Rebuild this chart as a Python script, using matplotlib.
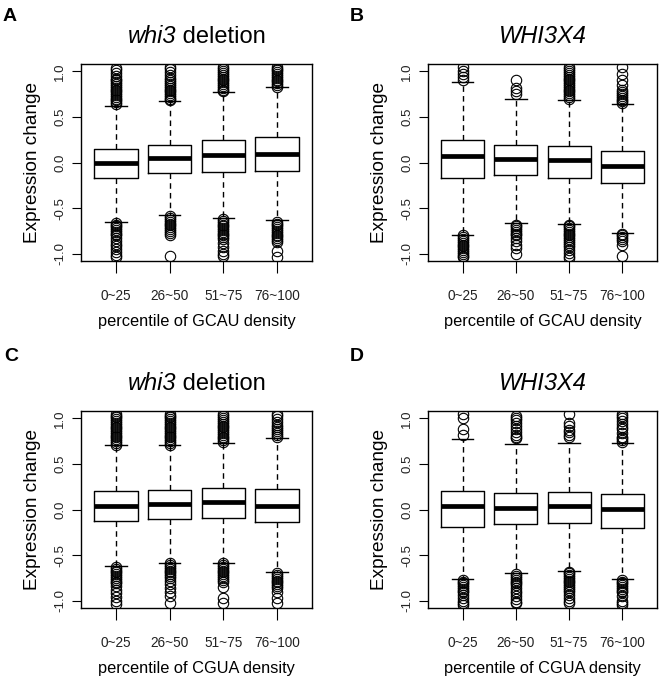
import numpy as np
import matplotlib
matplotlib.use("Agg")
import matplotlib.pyplot as plt

plt.rcParams['font.family'] = ['Liberation Sans', 'DejaVu Sans']

groups = ["0~25", "26~50", "51~75", "76~100"]
yticks = [-1.0, -0.5, 0.0, 0.5, 1.0]
ytick_labels = ["-1.0", "-0.5", "0.0", "0.5", "1.0"]

# box stats per panel: q1, median, q3, lower whisker, upper whisker
a_q1 = [-0.172, -0.113, -0.100, -0.088]
a_med = [0.000, 0.044, 0.080, 0.095]
a_q3 = [0.153, 0.197, 0.248, 0.281]
a_lo = [-0.650, -0.580, -0.610, -0.635]
a_hi = [0.624, 0.672, 0.770, 0.825]
a_out = [
    [0.64, 0.66, 0.68, 0.70, 0.72, 0.74, 0.76, 0.78, 0.80, 0.82, 0.84, 0.86, 0.88, 0.90, 0.92, 0.95, 0.98, 1.01, 1.04,
     -0.66, -0.68, -0.70, -0.72, -0.74, -0.76, -0.78, -0.80, -0.83, -0.86, -0.89, -0.92, -0.95, -0.98, -1.01, -1.04],
    [0.68, 0.70, 0.72, 0.74, 0.76, 0.78, 0.80, 0.82, 0.84, 0.86, 0.88, 0.90, 0.93, 0.96, 0.99, 1.02, 1.05,
     -0.59, -0.61, -0.63, -0.65, -0.67, -0.69, -0.71, -0.73, -0.75, -0.77, -0.79, -1.03],
    [0.78, 0.80, 0.82, 0.84, 0.86, 0.88, 0.90, 0.92, 0.94, 0.96, 0.98, 1.00, 1.02, 1.05,
     -0.62, -0.64, -0.66, -0.68, -0.70, -0.72, -0.74, -0.76, -0.78, -0.80, -0.82, -0.84, -0.88, -0.93, -0.97, -1.00, -1.03],
    [0.83, 0.85, 0.87, 0.89, 0.91, 0.93, 0.95, 0.97, 0.99, 1.01, 1.03, 1.05,
     -0.65, -0.67, -0.69, -0.71, -0.73, -0.75, -0.77, -0.79, -0.81, -0.83, -0.85, -0.87, -0.97, -1.04],
]

b_q1 = [-0.172, -0.142, -0.168, -0.230]
b_med = [0.073, 0.036, 0.022, -0.040]
b_q3 = [0.248, 0.193, 0.179, 0.124]
b_lo = [-0.790, -0.668, -0.670, -0.770]
b_hi = [0.880, 0.700, 0.690, 0.642]
b_out = [
    [0.90, 0.94, 0.97, 1.00, 1.05,
     -0.80, -0.82, -0.84, -0.86, -0.88, -0.90, -0.92, -0.94, -0.96, -0.98, -1.00, -1.02, -1.04],
    [0.75, 0.78, 0.82, 0.90,
     -0.68, -0.70, -0.72, -0.74, -0.76, -0.78, -0.80, -0.83, -0.86, -0.90, -0.94, -1.00],
    [0.70, 0.72, 0.74, 0.76, 0.78, 0.80, 0.82, 0.84, 0.86, 0.88, 0.90, 0.92, 0.94, 0.96, 0.98, 1.00, 1.02, 1.05,
     -0.68, -0.70, -0.72, -0.74, -0.76, -0.78, -0.80, -0.82, -0.84, -0.86, -0.88, -0.90, -0.93, -0.96, -0.99, -1.02, -1.05],
    [0.65, 0.67, 0.69, 0.71, 0.73, 0.75, 0.77, 0.80, 0.85, 0.90, 0.97, 1.05,
     -0.78, -0.80, -0.82, -0.84, -0.86, -0.90, -1.03],
]

c_q1 = [-0.124, -0.099, -0.091, -0.142]
c_med = [0.040, 0.058, 0.077, 0.036]
c_q3 = [0.204, 0.215, 0.241, 0.226]
c_lo = [-0.620, -0.584, -0.584, -0.690]
c_hi = [0.704, 0.704, 0.734, 0.785]
c_out = [
    [0.71, 0.73, 0.75, 0.77, 0.79, 0.81, 0.83, 0.85, 0.87, 0.89, 0.91, 0.93, 0.95, 0.97, 0.99, 1.01, 1.03, 1.05,
     -0.63, -0.65, -0.67, -0.69, -0.71, -0.73, -0.75, -0.77, -0.79, -0.81, -0.84, -0.88, -0.92, -0.96, -1.00, -1.04],
    [0.71, 0.73, 0.75, 0.77, 0.79, 0.81, 0.83, 0.85, 0.87, 0.89, 0.91, 0.93, 0.95, 0.97, 0.99, 1.01, 1.03, 1.05,
     -0.59, -0.61, -0.63, -0.65, -0.67, -0.69, -0.71, -0.73, -0.75, -0.78, -0.82, -0.86, -0.90, -0.95, -1.03],
    [0.74, 0.76, 0.78, 0.80, 0.82, 0.84, 0.86, 0.88, 0.90, 0.92, 0.94, 0.96, 0.98, 1.00, 1.02, 1.05,
     -0.59, -0.61, -0.63, -0.65, -0.67, -0.69, -0.71, -0.73, -0.75, -0.77, -0.80, -0.85, -0.97, -1.03],
    [0.80, 0.82, 0.84, 0.86, 0.88, 0.90, 0.93, 0.96, 0.99, 1.02, 1.05,
     -0.70, -0.72, -0.74, -0.76, -0.78, -0.80, -0.82, -0.84, -0.86, -0.90, -0.97, -1.03],
]

d_q1 = [-0.190, -0.164, -0.146, -0.200]
d_med = [0.033, 0.015, 0.033, 0.004]
d_q3 = [0.204, 0.186, 0.197, 0.175]
d_lo = [-0.763, -0.700, -0.670, -0.763]
d_hi = [0.770, 0.715, 0.726, 0.734]
d_out = [
    [0.82, 0.88, 1.00, 1.05,
     -0.77, -0.79, -0.81, -0.83, -0.85, -0.87, -0.89, -0.91, -0.94, -0.97, -1.00, -1.03, -1.05],
    [0.78, 0.80, 0.82, 0.85, 0.88, 0.92, 0.95, 0.98, 1.00, 1.03,
     -0.71, -0.73, -0.75, -0.77, -0.79, -0.81, -0.83, -0.86, -0.89, -0.92, -0.95, -0.98, -1.01, -1.03],
    [0.79, 0.82, 0.85, 0.87, 0.92, 0.95, 1.05,
     -0.68, -0.70, -0.72, -0.74, -0.76, -0.78, -0.80, -0.82, -0.84, -0.86, -0.88, -0.91, -0.94, -0.97, -1.00, -1.02],
    [0.74, 0.76, 0.78, 0.80, 0.84, 0.88, 0.91, 0.94, 0.97, 1.00, 1.03, 1.05,
     -0.77, -0.79, -0.81, -0.83, -0.85, -0.87, -0.89, -0.91, -0.95, -1.00, -1.03, -1.05],
]

# title parts: (italic part, upright part)
panels = [
    ("A", ("whi3", " deletion"), "percentile of GCAU density", a_q1, a_med, a_q3, a_lo, a_hi, a_out),
    ("B", ("WHI3X4", ""), "percentile of GCAU density", b_q1, b_med, b_q3, b_lo, b_hi, b_out),
    ("C", ("whi3", " deletion"), "percentile of CGUA density", c_q1, c_med, c_q3, c_lo, c_hi, c_out),
    ("D", ("WHI3X4", ""), "percentile of CGUA density", d_q1, d_med, d_q3, d_lo, d_hi, d_out),
]

W, H = 664, 681
# axes boxes in pixels: left, top, right, bottom
boxes = [(81, 64, 312, 261), (428, 64, 657, 261), (81, 411, 312, 608), (428, 411, 657, 608)]
letter_pos = [(3, 8), (350, 8), (4, 348), (350, 348)]

fig = plt.figure(figsize=(W / 100, H / 100), dpi=100)
titles = []

for (letter, title, xlab, q1, med, q3, lo, hi, out), (l, t, r, b), (lx, ly) in zip(panels, boxes, letter_pos):
    ax = fig.add_axes([l / W, 1 - b / H, (r - l) / W, (b - t) / H])
    stats = []
    for i in range(len(groups)):
        stats.append(dict(q1=q1[i], med=med[i], q3=q3[i], whislo=lo[i], whishi=hi[i], fliers=out[i]))
    ax.bxp(stats, positions=[1, 2, 3, 4], widths=0.81, capwidths=0.4, showfliers=True,
           boxprops=dict(color='black', lw=1.0),
           medianprops=dict(color='black', lw=3.4, solid_capstyle='butt'),
           whiskerprops=dict(color='black', lw=1.0, linestyle=(0, (4, 3))),
           capprops=dict(color='black', lw=1.0),
           flierprops=dict(marker='o', markersize=7.5, markerfacecolor='none',
                           markeredgecolor='black', markeredgewidth=0.8))
    ax.set_xlim(0.345, 4.655)
    ax.set_ylim(-1.08, 1.08)
    ax.set_yticks(yticks)
    ax.set_yticklabels(ytick_labels, rotation=90, va='center', fontsize=9.5, color='#222222')
    ax.set_xticks([1, 2, 3, 4])
    ax.set_xticklabels(groups, fontsize=9.8, color='#222222')
    ax.tick_params(axis='y', length=6.5, width=0.8, pad=4)
    ax.tick_params(axis='x', length=8.5, width=0.8, pad=12)
    for s in ax.spines.values():
        s.set_linewidth(1.0)
    ax.set_ylabel("Expression change", fontsize=13.7)
    ax.yaxis.set_label_coords(-0.175, 0.5)
    ax.set_xlabel(xlab, fontsize=11.8)
    ax.xaxis.set_label_coords(0.5, -0.27)

    # title: italic gene name followed by upright text
    t1 = ax.text(0.5, 1.105, title[0], transform=ax.transAxes, fontsize=17, style='italic',
                 ha='left', va='baseline')
    t2 = ax.text(0.5, 1.105, title[1], transform=ax.transAxes, fontsize=17,
                 ha='left', va='baseline')
    titles.append((ax, t1, t2))
    fig.text(lx / W, 1 - ly / H, letter, fontsize=14, fontweight='bold', ha='left', va='top')

# centre the two-part titles over their axes
fig.canvas.draw()
rend = fig.canvas.get_renderer()
for ax, t1, t2 in titles:
    w1 = t1.get_window_extent(rend).width
    w2 = t2.get_window_extent(rend).width if t2.get_text() else 0
    axw = ax.get_window_extent(rend).width
    x0 = 0.5 - (w1 + w2) / 2 / axw
    t1.set_x(x0)
    t2.set_x(x0 + w1 / axw)

fig.savefig("out.png", dpi=100)
